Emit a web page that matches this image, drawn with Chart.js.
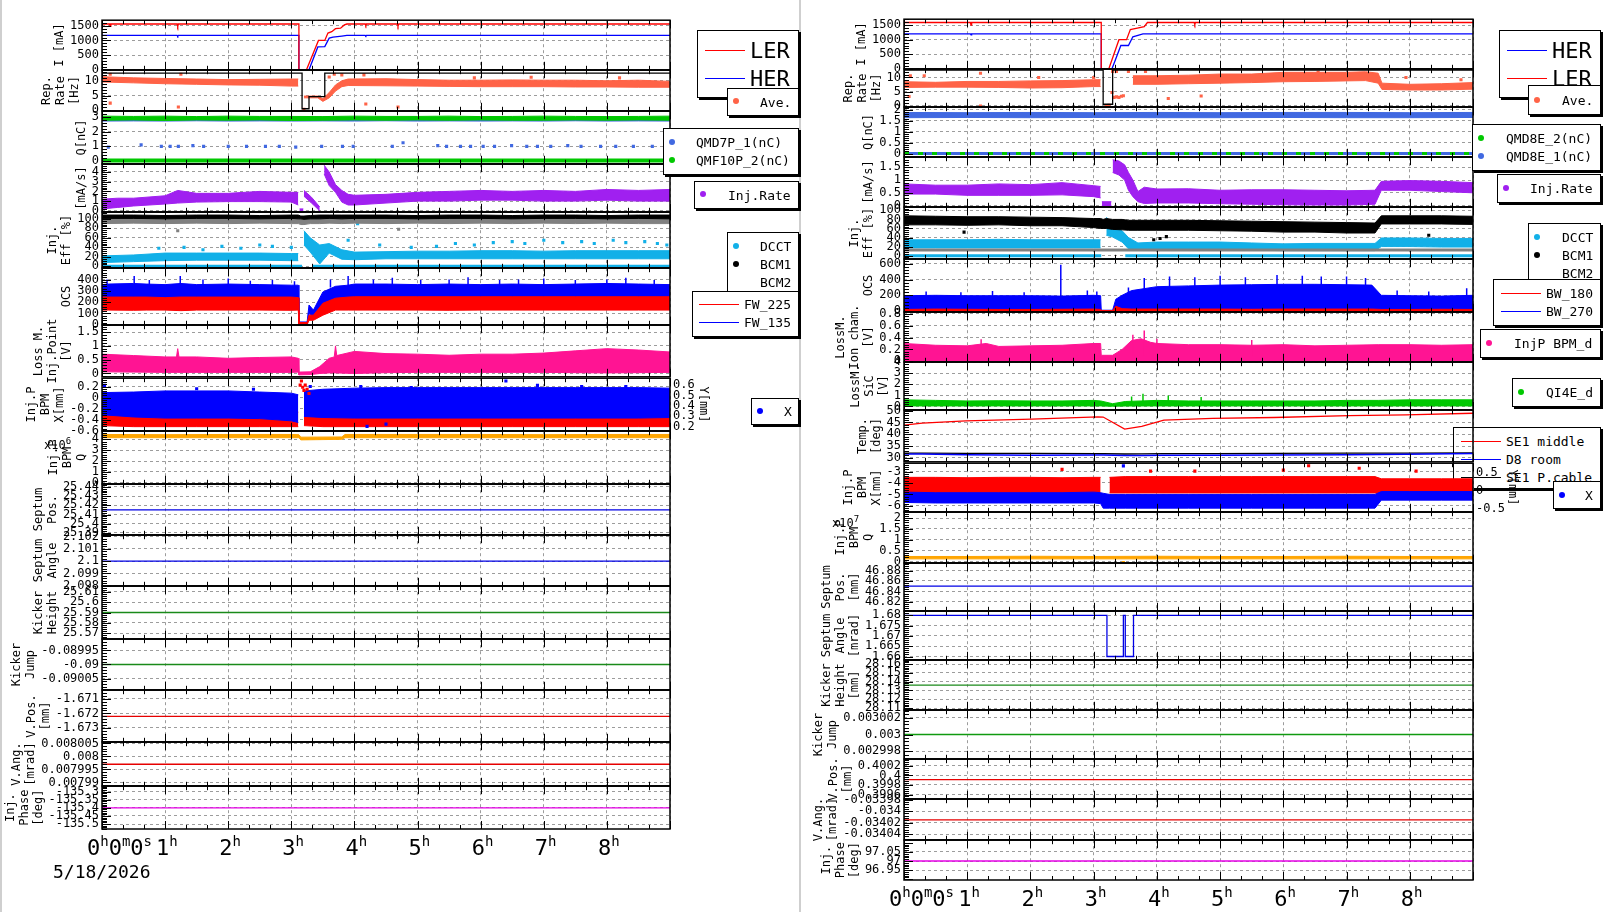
<!DOCTYPE html>
<html>
<head>
<meta charset="utf-8">
<script src="https://cdn.jsdelivr.net/npm/chart.js@4.4.1/dist/chart.umd.min.js"></script>
<style>
  html, body { margin: 0; padding: 0; background: #fff; }
  #stage { position: relative; width: 1606px; height: 912px; overflow: hidden; font-family: 'DejaVu Sans Mono', monospace; color: #000; }
  #stage canvas { position: absolute; }
  .win { position: absolute; top: 0; width: 2px; height: 912px; background: #cfcfcf; }
  .lg { position: absolute; border: 1px solid #000; box-shadow: 2px 2px 0 #000; background: #fff; font-size: 13px; z-index: 5; }
  .lg.under { z-index: 0; }
  .lg span { position: absolute; white-space: pre; line-height: 1; transform: translateY(-50%); }
  .lg span.big { font-size: 22px; }
  .lg i { position: absolute; display: block; }
  .lg i.dot { width: 6px; height: 6px; border-radius: 50%; transform: translate(-50%, -50%); }
  .lg i.ln { height: 1px; width: 40px; }
  .note { position: absolute; white-space: pre; z-index: 4; }
</style>
</head>
<body>
<div id="stage">
  <div class="win" style="left:0"></div>
  <div class="win" style="left:799px"></div>

  <!-- left legends -->
  <div class="lg" style="left:697px;top:30px;width:100px;height:66px">
    <i class="ln" style="left:7px;top:19px;background:#f00"></i><span class="big" style="left:52px;top:20px">LER</span>
    <i class="ln" style="left:7px;top:47px;background:#00f"></i><span class="big" style="left:52px;top:48px">HER</span>
  </div>
  <div class="lg" style="left:727px;top:88px;width:70px;height:26px">
    <i class="dot" style="left:8px;top:12px;background:#ff6347"></i><span style="left:32px;top:13px">Ave.</span>
  </div>
  <div class="lg" style="left:663px;top:128px;width:134px;height:45px">
    <i class="dot" style="left:8px;top:13px;background:#4169e1"></i><span style="left:32px;top:13px">QMD7P_1(nC)</span>
    <i class="dot" style="left:8px;top:31px;background:#00c800"></i><span style="left:32px;top:31px">QMF10P_2(nC)</span>
  </div>
  <div class="lg" style="left:694px;top:181px;width:103px;height:26px">
    <i class="dot" style="left:8px;top:12px;background:#a020f0"></i><span style="left:33px;top:13px">Inj.Rate</span>
  </div>
  <div class="lg" style="left:727px;top:232px;width:70px;height:63px">
    <i class="dot" style="left:8px;top:13px;background:#12b0e8"></i><span style="left:32px;top:13px">DCCT</span>
    <i class="dot" style="left:8px;top:31px;background:#000"></i><span style="left:32px;top:31px">BCM1</span>
    <span style="left:32px;top:49px">BCM2</span>
  </div>
  <div class="lg" style="left:692px;top:291px;width:105px;height:44px">
    <i class="ln" style="left:6px;top:12px;background:#f00"></i><span style="left:51px;top:12px">FW_225</span>
    <i class="ln" style="left:6px;top:30px;background:#00f"></i><span style="left:51px;top:30px">FW_135</span>
  </div>
  <div class="lg" style="left:751px;top:398px;width:46px;height:25px">
    <i class="dot" style="left:8px;top:12px;background:#00f"></i><span style="left:32px;top:12px">X</span>
  </div>

  <!-- right legends -->
  <div class="lg" style="left:1499px;top:30px;width:100px;height:66px">
    <i class="ln" style="left:7px;top:19px;background:#00f"></i><span class="big" style="left:52px;top:20px">HER</span>
    <i class="ln" style="left:7px;top:47px;background:#f00"></i><span class="big" style="left:52px;top:48px">LER</span>
  </div>
  <div class="lg" style="left:1528px;top:85px;width:71px;height:28px">
    <i class="dot" style="left:8px;top:14px;background:#ff6347"></i><span style="left:33px;top:14px">Ave.</span>
  </div>
  <div class="lg" style="left:1472px;top:124px;width:127px;height:45px">
    <i class="dot" style="left:8px;top:13px;background:#00c800"></i><span style="left:33px;top:13px">QMD8E_2(nC)</span>
    <i class="dot" style="left:8px;top:31px;background:#4169e1"></i><span style="left:33px;top:31px">QMD8E_1(nC)</span>
  </div>
  <div class="lg" style="left:1497px;top:174px;width:102px;height:27px">
    <i class="dot" style="left:8px;top:13px;background:#a020f0"></i><span style="left:32px;top:13px">Inj.Rate</span>
  </div>
  <div class="lg" style="left:1528px;top:223px;width:71px;height:63px">
    <i class="dot" style="left:8px;top:13px;background:#12b0e8"></i><span style="left:33px;top:13px">DCCT</span>
    <i class="dot" style="left:8px;top:31px;background:#000"></i><span style="left:33px;top:31px">BCM1</span>
    <span style="left:33px;top:49px">BCM2</span>
  </div>
  <div class="lg" style="left:1493px;top:279px;width:106px;height:45px">
    <i class="ln" style="left:7px;top:13px;background:#f00"></i><span style="left:52px;top:13px">BW_180</span>
    <i class="ln" style="left:7px;top:31px;background:#00f"></i><span style="left:52px;top:31px">BW_270</span>
  </div>
  <div class="lg" style="left:1480px;top:329px;width:119px;height:27px">
    <i class="dot" style="left:8px;top:13px;background:#ff1493"></i><span style="left:33px;top:13px">InjP BPM_d</span>
  </div>
  <div class="lg" style="left:1512px;top:378px;width:87px;height:27px">
    <i class="dot" style="left:8px;top:13px;background:#00c800"></i><span style="left:33px;top:13px">QI4E_d</span>
  </div>
  <div class="lg under" style="left:1453px;top:427px;width:146px;height:60px">
    <i class="ln" style="left:7px;top:13px;background:#f00"></i><span style="left:52px;top:13px">SE1 middle</span>
    <i class="ln" style="left:7px;top:31px;background:#00f"></i><span style="left:52px;top:31px">D8 room</span>
    <i class="ln" style="left:7px;top:49px;background:#000"></i><span style="left:52px;top:49px">SE1 P.cable</span>
  </div>
  <div class="lg" style="left:1553px;top:481px;width:46px;height:26px">
    <i class="dot" style="left:8px;top:13px;background:#00f"></i><span style="left:31px;top:13px">X</span>
  </div>

  <div class="note" style="left:44px;top:436px;font-size:12px">x10<sup style="font-size:9px">6</sup></div>
  <div class="note" style="left:832px;top:514px;font-size:12px">x10<sup style="font-size:9px">7</sup></div>
  <div class="note" id="dateLbl" style="left:53px;top:861px;font-size:18px"></div>
</div>

<script>
// ---------------- data (time in hours from 0h0m0s) ----------------
const runDate = '5/18/2026';
const hourGrid = [0, 1, 2, 3, 4, 5, 6, 7, 8, 9];
const hourLabels = [0, 1, 2, 3, 4, 5, 6, 7, 8];
const flatT = [0, 9];

// ===== left column =====
const curLerT = [0, 0.12, 0.13, 0.14, 1.19, 1.2, 1.21, 3.12, 3.12, 3.24, 3.43, 3.53, 3.58, 3.64, 3.7, 3.78, 3.84, 3.88, 4.17, 4.18, 4.19, 4.68, 4.69, 4.7, 9];
const curLer = [1560, 1560, 1480, 1560, 1560, 1480, 1560, 1560, 0, 0, 1000, 1000, 1250, 1300, 1400, 1420, 1530, 1560, 1560, 1510, 1560, 1560, 1490, 1560, 1560];
const curHerT = [0, 1.19, 1.2, 1.21, 3.12, 3.12, 3.28, 3.42, 3.53, 3.6, 3.66, 3.8, 3.88, 4.17, 4.18, 4.19, 9];
const curHer = [1170, 1170, 1140, 1170, 1170, 0, 0, 780, 790, 1080, 1110, 1150, 1170, 1170, 1150, 1170, 1170];

const repT = [0, 0.5, 1, 1.5, 2, 2.5, 3, 3.11, 3.15, 3.2, 3.3, 3.42, 3.5, 3.6, 3.7, 3.8, 3.9, 4.5, 5, 5.5, 6, 6.5, 7, 7.5, 8, 8.5, 9];
const repLo = [9.6, 9.3, 9.0, 8.8, 8.6, 8.5, 8.2, 8.2, null, 4.2, 4.2, 4.2, 3.0, 4.2, 6.5, 8.0, 8.4, 8.3, 8.2, 8.1, 8.0, 8.0, 8.0, 7.9, 7.9, 7.8, 7.8];
const repHi = [11.4, 11.0, 10.8, 10.6, 10.4, 10.5, 10.6, 10.6, null, 4.8, 4.8, 4.8, 3.9, 6.0, 8.6, 10.0, 10.6, 10.7, 10.4, 10.2, 10.2, 10.3, 10.2, 10.2, 10.0, 10.2, 9.8];
const repOutT = [0.13, 0.13, 1.21, 1.25, 3.2, 3.6, 3.68, 3.8, 4.15, 4.18, 4.69, 5.9, 6.8, 8.2];
const repOut = [2.4, 12.2, 1.1, 12.2, 0.3, 11.3, 12.2, 12.0, 12.0, 2.1, 1.1, 11.0, 11.2, 11.0];
const repSetT = [0, 3.17, 3.17, 3.28, 3.28, 3.53, 3.53, 9];
const repSet = [12.6, 12.6, 0.5, 0.5, 4.6, 4.6, 12.6, 12.6];

const qT = [0, 0.5, 1, 1.5, 2, 2.5, 3, 3.5, 4, 4.5, 5, 5.5, 6, 6.5, 7, 7.5, 8, 8.5, 9];
const q10pLo = [2.80, 2.82, 2.78, 2.82, 2.80, 2.82, 2.78, 2.80, 2.82, 2.80, 2.82, 2.80, 2.82, 2.80, 2.80, 2.82, 2.80, 2.82, 2.80];
const q10pHi = [3.08, 3.06, 3.08, 3.05, 3.08, 3.06, 3.06, 3.05, 3.08, 3.06, 3.06, 3.08, 3.05, 3.06, 3.08, 3.06, 3.05, 3.06, 3.08];
const q7pLo = [2.74, 2.75, 2.74, 2.76, 2.74, 2.75, 2.74, 2.75, 2.74, 2.76, 2.74, 2.75, 2.74, 2.75, 2.74, 2.76, 2.74, 2.75, 2.74];
const q7pHi = [2.92, 2.9, 2.92, 2.9, 2.92, 2.9, 2.92, 2.9, 2.92, 2.9, 2.92, 2.9, 2.92, 2.9, 2.92, 2.9, 2.92, 2.9, 2.92];
const qDotT = [0.10, 0.62, 0.94, 1.08, 1.21, 1.44, 1.61, 2.0, 2.29, 2.59, 2.81, 3.07, 3.48, 3.81, 3.98, 4.60, 4.77, 5.32, 5.46, 5.68, 5.84, 6.04, 6.22, 6.49, 6.73, 6.90, 7.11, 7.38, 7.59, 7.90, 8.14, 8.42, 8.72];
const qDot = [0.95, 1.1, 1.0, 1.0, 1.0, 1.05, 1.0, 1.0, 1.0, 1.0, 1.0, 0.95, 1.0, 1.0, 1.0, 1.0, 1.25, 1.05, 1.0, 1.0, 1.0, 1.0, 1.0, 1.05, 1.0, 1.0, 1.0, 1.05, 1.0, 1.0, 1.0, 1.0, 1.0];

const injT = [0, 0.25, 0.5, 1, 1.2, 1.5, 2, 2.5, 3, 3.11, 3.12, 3.13, 3.19, 3.195, 3.2, 3.32, 3.45, 3.5, 3.52, 3.6, 3.7, 3.8, 3.9, 4, 4.5, 5, 5.5, 6, 6.5, 7, 7.5, 8, 8.5, 9];
const injLo = [0.2, 0.35, 0.5, 0.7, 0.8, 0.9, 0.95, 0.95, 0.9, 0.6, null, 0.0, 0.0, null, 1.5, 0.8, 0.0, null, 3.8, 2.6, 1.9, 0.9, 0.6, 0.6, 0.8, 1.0, 1.0, 1.1, 1.1, 1.0, 1.0, 1.1, 1.0, 1.0];
const injHi = [1.2, 1.3, 1.3, 1.55, 2.1, 1.8, 1.8, 2.0, 1.9, 1.9, null, 0.2, 0.2, null, 2.1, 1.4, 0.4, null, 4.7, 4.0, 2.7, 2.1, 1.7, 1.6, 1.7, 1.9, 2.0, 2.1, 2.0, 2.1, 2.0, 2.2, 2.1, 2.2];

const effT = [0, 0.5, 1, 1.5, 2, 2.5, 3, 3.11, 3.15, 3.2, 3.3, 3.45, 3.6, 3.8, 4, 4.5, 5, 5.5, 6, 6.5, 7, 7.5, 8, 8.5, 9];
const bcm1Lo = [101, 101, 100, 101, 101, 100, 101, 100, 100, 99, 100, 100, 101, 100, 101, 101, 100, 101, 101, 100, 101, 101, 100, 101, 100];
const bcm1Hi = [108, 108, 107, 108, 108, 107, 108, 108, 106, 106, 107, 108, 108, 108, 108, 108, 107, 108, 108, 107, 108, 108, 107, 108, 108];
const bcm2Lo = [90, 91, 90, 91, 90, 91, 90, 90, 88, 88, 90, 90, 91, 90, 91, 90, 91, 90, 91, 90, 91, 90, 91, 90, 90];
const bcm2Hi = [101, 101, 101, 101, 101, 101, 101, 101, 100, 100, 101, 101, 101, 101, 101, 101, 101, 101, 101, 101, 101, 101, 101, 101, 101];
const dcctLo = [8, 10, 12, 13, 13, 13, 12, 12, null, 45, 30, 5, 28, 15, 14, 16, 16, 16, 16, 16, 16, 16, 16, 16, 16];
const dcctHi = [22, 24, 28, 28, 28, 28, 27, 27, null, 75, 60, 45, 48, 35, 30, 31, 32, 32, 33, 33, 32, 33, 33, 33, 33];
const dcctOutT = [0.35, 0.9, 1.3, 1.6, 1.9, 2.2, 2.5, 2.7, 3.0, 3.9, 4.05, 4.4, 4.9, 5.3, 5.6, 5.9, 6.2, 6.5, 6.7, 7.0, 7.3, 7.6, 7.8, 8.1, 8.3, 8.6, 8.8, 8.95];
const dcctOut = [95, 38, 40, 35, 42, 38, 45, 42, 40, 55, 90, 45, 40, 42, 48, 45, 50, 52, 48, 55, 50, 52, 48, 55, 50, 52, 48, 45];
const bcm2OutT = [1.2, 4.7];
const bcm2Out = [75, 78];
const dcctZeroT = [0, 3.17, 3.25, 3.33, 9];
const dcctZero = [0, 0, null, 0, 0];

const ocsT = [0, 0.1, 0.5, 0.7, 1, 1.25, 1.5, 2, 2.5, 3, 3.11, 3.12, 3.25, 3.28, 3.35, 3.5, 3.7, 3.9, 4, 4.5, 5, 5.5, 6, 6.5, 7, 7.5, 8, 8.5, 9];
const fw135Lo = [235, 235, 235, 235, 235, 235, 235, 235, 235, 235, 235, 5, 5, 100, 60, 150, 200, 230, 235, 235, 235, 235, 235, 235, 235, 235, 235, 235, 235];
const fw135Hi = [355, 360, 365, 360, 355, 365, 355, 360, 355, 350, 350, 25, 25, 175, 130, 290, 340, 350, 360, 360, 355, 360, 355, 360, 355, 360, 365, 360, 355];
const fw225Lo = [130, 130, 128, 130, 130, 125, 130, 130, 130, 128, 130, 0, 0, 40, 40, 85, 130, 130, 130, 130, 130, 128, 130, 130, 130, 130, 130, 130, 130];
const fw225Hi = [245, 245, 245, 245, 240, 245, 245, 245, 245, 245, 240, 20, 20, 85, 85, 190, 235, 245, 248, 248, 248, 248, 248, 248, 248, 248, 248, 248, 248];
const fw135PeakT = [0.08, 0.51, 0.75, 1.24, 1.6, 2.0, 2.35, 2.7, 3.05, 3.62, 3.9, 4.3, 4.6, 5.05, 5.5, 5.8, 6.3, 6.6, 7.0, 7.5, 8.0, 8.3, 8.75];
const fw135Peak = [400, 430, 395, 430, 400, 410, 390, 395, 385, 400, 430, 400, 415, 395, 400, 420, 395, 400, 410, 395, 400, 415, 395];
const fw135PeakBase = 330;

const lossT = [0, 0.5, 1, 1.18, 1.2, 1.22, 1.5, 2, 2.5, 3, 3.11, 3.12, 3.3, 3.45, 3.6, 3.68, 3.7, 3.72, 4, 4.5, 5, 5.5, 6, 6.5, 7, 7.5, 8, 8.5, 9];
const lossLo = [0.06, 0.05, 0.04, 0.04, 0.04, 0.04, 0.04, 0.04, 0.04, 0.04, 0.05, -0.05, -0.04, 0.0, 0.02, 0.02, 0.02, 0.02, 0.0, 0.03, 0.04, 0.04, 0.04, 0.04, 0.04, 0.03, 0.02, 0.03, 0.04];
const lossHi = [0.7, 0.65, 0.6, 0.6, 0.9, 0.6, 0.6, 0.55, 0.58, 0.6, 0.55, 0.05, 0.06, 0.25, 0.55, 0.6, 1.0, 0.65, 0.8, 0.72, 0.7, 0.66, 0.7, 0.7, 0.74, 0.82, 0.9, 0.85, 0.78];

const bpmT = [0, 0.5, 1, 1.5, 2, 2.5, 3, 3.11, 3.15, 3.2, 3.5, 4, 4.5, 5, 5.5, 6, 6.5, 7, 7.5, 8, 8.5, 9];
const bpmXLo = [-0.31, -0.35, -0.37, -0.37, -0.37, -0.38, -0.42, -0.45, null, -0.34, -0.36, -0.37, -0.37, -0.37, -0.37, -0.37, -0.37, -0.37, -0.37, -0.37, -0.37, -0.36];
const bpmXHi = [0.09, 0.1, 0.12, 0.12, 0.12, 0.1, 0.08, 0.05, null, 0.12, 0.15, 0.17, 0.18, 0.18, 0.18, 0.18, 0.18, 0.18, 0.18, 0.18, 0.18, 0.17];
const bpmYLo = [0.21, 0.2, 0.2, 0.2, 0.2, 0.2, 0.2, 0.2, null, 0.21, 0.2, 0.2, 0.2, 0.2, 0.2, 0.2, 0.2, 0.2, 0.2, 0.2, 0.2, 0.2];
const bpmYHi = [0.34, 0.34, 0.34, 0.34, 0.34, 0.34, 0.34, 0.34, null, 0.34, 0.34, 0.34, 0.34, 0.34, 0.34, 0.34, 0.34, 0.34, 0.34, 0.34, 0.34, 0.34];
const bpmYEvT = [3.14, 3.16, 3.18, 3.2, 3.22, 3.25, 3.28];
const bpmYEv = [0.6, 0.64, 0.58, 0.55, 0.6, 0.56, 0.52];
const bpmXOutT = [0.04, 1.5, 2.4, 3.3, 4.1, 4.9, 6.4, 6.9, 7.6, 8.3, 4.2, 4.5];
const bpmXOut = [0.22, 0.16, 0.15, 0.2, 0.2, 0.18, 0.3, 0.22, 0.2, 0.2, -0.52, -0.48];

const bpmQT = [0, 1, 2, 3, 3.12, 3.15, 3.8, 3.85, 5, 6, 7, 8, 9];
const bpmQLo = [4.15, 4.15, 4.15, 4.15, 4.15, 3.95, 4.0, 4.15, 4.15, 4.15, 4.15, 4.15, 4.15];
const bpmQHi = [4.45, 4.43, 4.45, 4.45, 4.43, 4.2, 4.22, 4.45, 4.45, 4.45, 4.43, 4.45, 4.45];

const septPosL = [25.415, 25.415];
const septAngL = [2.1, 2.1];
const kickHL = [25.59, 25.59];
const kickJL = [-0.09, -0.09];
const vPosL = [-1.6722, -1.6722];
const vAngL = [0.007997, 0.007997];
const phaseL = [-135.4, -135.4];

// ===== right column =====
const curLerRT = [0, 1.05, 1.06, 1.07, 3.12, 3.12, 3.24, 3.4, 3.52, 3.58, 3.69, 3.8, 3.85, 4.59, 4.6, 4.61, 9];
const curLerR = [1590, 1590, 1500, 1590, 1590, 0, 0, 1000, 1000, 1350, 1400, 1450, 1590, 1590, 1520, 1590, 1590];
const curHerRT = [0, 1.05, 1.06, 1.07, 3.12, 3.12, 3.29, 3.43, 3.55, 3.62, 3.7, 3.78, 9];
const curHerR = [1200, 1200, 1170, 1200, 1200, 0, 0, 800, 800, 1100, 1150, 1200, 1200];

const repRT = [0, 0.5, 1, 1.5, 2, 2.5, 3, 3.11, 3.3, 3.62, 4, 4.5, 5, 5.5, 6, 6.5, 7, 7.3, 7.5, 7.56, 8, 8.5, 9];
const repRLo = [6.5, 6.6, 6.6, 6.5, 6.3, 6.4, 6.8, 6.8, null, 7.6, 7.6, 7.8, 8.0, 8.2, 8.5, 8.6, 8.8, 8.9, 8.0, 5.8, 5.6, 5.6, 5.9];
const repRHi = [8.5, 8.3, 8.6, 8.6, 8.8, 8.9, 9.2, 9.2, null, 10.6, 10.6, 10.8, 11.2, 11.2, 11.8, 11.8, 11.8, 12.0, 11.5, 8.0, 7.6, 7.8, 8.2];
const repROutT = [0.1, 0.32, 0.08, 1.21, 1.21, 2.13, 3.0, 3.2, 3.24, 3.29, 3.32, 3.36, 3.4, 3.44, 3.47, 3.3, 3.36, 3.55, 3.82, 4.18, 4.7, 6.55, 7.94, 8.81];
const repROut = [10.6, 10.6, 3.3, 11.5, 0.0, 10.0, 10.0, 0.0, 0.2, 4.7, 3.0, 3.2, 3.0, 3.4, 3.6, 12.1, 12.1, 12.1, 12.1, 2.6, 3.5, 11.8, 10.0, 9.2];
const repRSetT = [0, 3.15, 3.15, 3.3, 3.3, 9];
const repRSet = [12.6, 12.6, 0.6, 0.6, 12.6, 12.6];

const qRT = [0, 1, 2, 3, 4, 5, 6, 7, 8, 9];
const q8e1Lo = [1.64, 1.65, 1.64, 1.65, 1.64, 1.64, 1.65, 1.64, 1.64, 1.65];
const q8e1Hi = [1.88, 1.87, 1.88, 1.87, 1.88, 1.87, 1.88, 1.88, 1.87, 1.88];
const qZero = [0, 0];

const injRT = [0, 0.5, 1, 1.5, 2, 2.5, 3, 3.11, 3.12, 3.13, 3.28, 3.29, 3.3, 3.4, 3.49, 3.55, 3.62, 3.7, 3.8, 4, 4.5, 5, 5.5, 6, 6.5, 7, 7.45, 7.55, 8, 8.5, 9];
const injRLo = [0.45, 0.45, 0.4, 0.4, 0.4, 0.42, 0.35, 0.3, null, 0.0, 0.0, null, 1.3, 1.2, 1.0, 0.6, 0.35, 0.15, 0.08, 0.1, 0.1, 0.07, 0.05, 0.03, 0.02, 0.02, 0.05, 0.6, 0.6, 0.55, 0.5];
const injRHi = [0.85, 0.8, 0.8, 0.85, 0.82, 0.9, 0.78, 0.75, null, 0.15, 0.15, null, 1.8, 1.75, 1.6, 1.3, 1.0, 0.55, 0.72, 0.65, 0.66, 0.6, 0.62, 0.62, 0.6, 0.58, 0.6, 0.95, 0.98, 0.95, 0.9];

const effRT = [0, 0.5, 1, 1.5, 2, 2.5, 3, 3.11, 3.15, 3.2, 3.3, 3.45, 3.55, 3.7, 4, 4.5, 5, 5.5, 6, 6.5, 7, 7.45, 7.55, 8, 8.5, 9];
const bcm1RLo = [68, 68, 67, 68, 66, 66, 62, 60, 60, 60, 58, 57, 56, 56, 56, 56, 55, 54, 52, 52, 50, 50, 70, 70, 70, 69];
const bcm1RHi = [88, 87, 86, 86, 85, 84, 82, 82, 80, 82, 80, 80, 78, 78, 78, 78, 77, 76, 75, 74, 73, 72, 88, 88, 88, 87];
const dcctRLo = [17, 17, 17, 17, 17, 17, 17, 17, null, 45, 41, 30, 15, 12, 13, 13, 12, 12, 11, 11, 11, 11, 20, 20, 19, 19];
const dcctRHi = [35, 35, 35, 36, 35, 35, 35, 35, null, 85, 70, 55, 40, 28, 30, 30, 30, 28, 26, 27, 27, 27, 39, 39, 38, 38];
const bcm2R = [12.6, 12.6];
const dcctRZeroT = [0, 3.12, 3.3, 3.5, 9];
const dcctRZero = [0, 0, null, 0, 0];
const bcm1ROutT = [0.95, 3.95, 4.05, 4.15, 8.3];
const bcm1ROut = [52, 35, 38, 42, 45];

const ocsRT = [0, 0.5, 1, 1.5, 2, 2.5, 3, 3.11, 3.12, 3.3, 3.35, 3.45, 3.6, 4, 4.5, 5, 5.5, 6, 6.5, 7, 7.4, 7.55, 8, 8.5, 9];
const bw270Lo = [15, 15, 15, 15, 15, 15, 15, 15, 0, 0, 10, 20, 20, 25, 25, 25, 25, 25, 25, 25, 25, 20, 20, 20, 20];
const bw270Hi = [195, 200, 195, 195, 195, 190, 200, 195, 10, 10, 150, 200, 260, 310, 320, 330, 335, 340, 340, 335, 330, 200, 195, 190, 200];
const bw180Lo = [0, 0, 0, 0, 0, 0, 0, 0, 0, 0, 0, 0, 0, 0, 0, 0, 0, 0, 0, 0, 0, 0, 0, 0, 0];
const bw180Hi = [20, 25, 22, 20, 20, 22, 25, 20, 5, 5, 60, 30, 25, 25, 25, 25, 22, 25, 25, 25, 25, 20, 20, 22, 20];
const bw270PeakT = [0.35, 0.9, 1.4, 1.9, 2.48, 2.9, 3.05, 3.55, 3.8, 4.2, 4.6, 5.0, 5.4, 5.9, 6.3, 6.6, 7.0, 7.3, 7.8, 8.3, 8.9];
const bw270Peak = [250, 240, 255, 240, 590, 260, 250, 300, 420, 440, 430, 450, 430, 460, 450, 440, 440, 420, 260, 250, 290];
const bw270PeakBase = 150;

const ionT = [0, 0.5, 1, 1.3, 1.5, 2, 2.5, 3, 3.11, 3.12, 3.3, 3.45, 3.6, 3.75, 3.9, 4, 4.5, 5, 5.5, 6, 6.5, 7, 7.5, 8, 8.5, 9];
const ionLo = [0, 0, 0, 0, 0, 0, 0, 0, 0, 0, 0, 0, 0, 0, 0, 0, 0, 0, 0, 0, 0, 0, 0, 0, 0, 0];
const ionHi = [0.3, 0.27, 0.26, 0.3, 0.25, 0.26, 0.27, 0.3, 0.3, 0.1, 0.1, 0.2, 0.35, 0.38, 0.32, 0.3, 0.28, 0.28, 0.27, 0.28, 0.26, 0.27, 0.28, 0.28, 0.27, 0.28];
const ionPeakT = [1.22, 3.62, 3.8, 4.0, 5.5];
const ionPeak = [0.37, 0.45, 0.52, 0.38, 0.36];
const ionPeakBase = 0.1;

const sicT = [0, 0.5, 1, 1.5, 2, 2.5, 3, 3.11, 3.3, 3.5, 4, 4.5, 5, 5.5, 6, 6.5, 7, 7.5, 8, 8.5, 9];
const sicLo = [0.05, 0.05, 0.05, 0.05, 0.05, 0.05, 0.05, 0.05, 0.02, 0.04, 0.05, 0.05, 0.05, 0.05, 0.05, 0.05, 0.05, 0.05, 0.05, 0.05, 0.05];
const sicHi = [0.6, 0.55, 0.5, 0.52, 0.5, 0.5, 0.55, 0.5, 0.25, 0.45, 0.55, 0.5, 0.5, 0.5, 0.5, 0.5, 0.55, 0.55, 0.6, 0.6, 0.6];
const sicPeakT = [3.6, 3.78, 4.18, 4.7];
const sicPeak = [0.9, 1.15, 1.0, 0.85];
const sicPeakBase = 0.3;

const tempT = [0, 0.29, 0.98, 2.02, 3.07, 3.15, 3.49, 3.76, 4.11, 4.88, 5.85, 7.04, 7.94, 9.0];
const tempSe1Mid = [43.9, 44.7, 45.7, 46.4, 47.4, 47.3, 42.2, 43.3, 46.0, 46.7, 47.1, 47.9, 48.2, 48.9];
const tempD8 = [31.6, 31.6, 31.3, 31.1, 31.2, 31.2, 31.0, 31.0, 31.1, 31.1, 31.2, 31.3, 31.5, 31.8];
const tempCable = [32.0, 32.0, 31.9, 31.9, 31.8, 31.8, 31.6, 31.7, 31.8, 31.8, 31.9, 32.0, 32.0, 32.1];

const bpmRT = [0, 0.5, 1, 1.5, 2, 2.5, 3, 3.11, 3.15, 3.25, 3.5, 4, 4.5, 5, 5.5, 6, 6.5, 7, 7.45, 7.55, 8, 8.5, 9];
const bpmRXLo = [-5.7, -5.75, -5.75, -5.75, -5.75, -5.75, -5.75, -5.8, -6.2, -6.2, -6.2, -6.2, -6.2, -6.2, -6.2, -6.2, -6.2, -6.2, -6.2, -5.5, -5.5, -5.5, -5.5];
const bpmRXHi = [-4.8, -4.85, -4.85, -4.85, -4.85, -4.85, -4.8, -4.85, -4.9, -5.0, -5.0, -5.0, -5.0, -5.0, -5.0, -5.0, -5.0, -5.0, -5.0, -4.75, -4.75, -4.75, -4.75];
const bpmRYLo = [-0.05, -0.05, -0.05, -0.05, -0.05, -0.05, -0.05, -0.05, null, -0.05, -0.05, -0.05, -0.05, -0.05, -0.05, -0.05, -0.05, -0.05, -0.05, -0.08, -0.08, -0.08, -0.08];
const bpmRYHi = [0.38, 0.38, 0.37, 0.38, 0.38, 0.37, 0.38, 0.38, null, 0.38, 0.4, 0.4, 0.4, 0.4, 0.4, 0.4, 0.4, 0.4, 0.4, 0.34, 0.34, 0.34, 0.34];
const bpmRYOutT = [2.5, 3.9, 4.6, 6.0, 6.4, 7.2, 8.1];
const bpmRYOut = [0.6, 0.55, 0.55, 0.58, 0.7, 0.63, 0.55];
const bpmRXOutT = [3.47];
const bpmRXOut = [-2.5];

const bpmQRT = [0, 1, 2, 3, 4, 5, 6, 7, 8, 9];
const bpmQRLo = [0.13, 0.13, 0.13, 0.13, 0.13, 0.13, 0.13, 0.13, 0.13, 0.13];
const bpmQRHi = [0.24, 0.24, 0.25, 0.24, 0.25, 0.24, 0.24, 0.25, 0.24, 0.24];
const bpmQRDotT = [3.47];
const bpmQRDot = [-0.04];

const septPosR = [46.85, 46.85];
const septAngRT = [0, 3.21, 3.21, 3.47, 3.47, 3.5, 3.5, 3.63, 3.63, 9];
const septAngR = [1.68, 1.68, 1.66, 1.66, 1.68, 1.68, 1.66, 1.66, 1.68, 1.68];
const kickHR = [28.136, 28.136];
const kickJR = [0.003, 0.003];
const vPosR = [0.39991, 0.39991];
const vAngR = [-0.034015, -0.034015];
const phaseR = [97.0, 97.0];

// ---------------- styling ----------------
const RED = '#ff0000', BLUE = '#0000ff', TOMATO = '#ff6347', GRN = '#00c800', RBLUE = '#4169e1';
const PURPLE = '#a020f0', CYAN = '#12b0e8', GRAY = '#808080', PINK = '#ff1493', ORANGE = '#ffa500';
const DKGREEN = '#1a8a1a', MAGENTA = '#e600e6', SEPBLUE = '#0000e6', LRED = '#e60000';
const GRID = '#9c9c9c';
const PAD = 10, XLAB = 40, EXTRA = 60, Y2W = 40;
const colL = {left: 0, plotLeft: 102, plotRight: 670};
const colR = {left: 800, plotLeft: 904, plotRight: 1473};

Chart.defaults.font.family = "'DejaVu Sans Mono', monospace";
Chart.defaults.font.size = 12;
Chart.defaults.color = '#000';

const xy = (t, v) => t.map((x, i) => ({x: x, y: v[i]}));

function band(t, lo, hi, color, order, axis) {
  return [
    {data: xy(t, lo), borderColor: color, borderWidth: 1, pointRadius: 0, fill: false, order: order, yAxisID: axis || 'y'},
    {data: xy(t, hi), borderColor: color, borderWidth: 1, pointRadius: 0, fill: '-1', backgroundColor: color, order: order, yAxisID: axis || 'y'}
  ];
}
function trace(t, v, color, width, order, extra) {
  return Object.assign({data: xy(t, v), borderColor: color, borderWidth: width, pointRadius: 0, fill: false, order: order}, extra || {});
}
function dots(t, v, color, order, axis) {
  return {data: xy(t, v), showLine: false, pointStyle: 'rect', pointRadius: 2.2, pointBorderWidth: 0,
    pointBackgroundColor: color, borderColor: color, order: order, yAxisID: axis || 'y'};
}
// vertical stems from a base level up to each peak reading
function stems(t, peak, base, color, order) {
  const pts = [];
  t.forEach((x, i) => { pts.push({x: x, y: base}, {x: x, y: peak[i]}, {x: x, y: null}); });
  return {data: pts, borderColor: color, borderWidth: 1.5, pointRadius: 0, fill: false, order: order};
}

const leftPanels = [
  {top: 19.5, bot: 70, min: 0, max: 1690, ticks: ['0', '500', '1000', '1500'], title: ['I [mA]'],
   sets: () => [trace(curLerT, curLer, RED, 1.3, 1), trace(curHerT, curHer, BLUE, 1.3, 2)]},
  {top: 70, bot: 111, min: -0.2, max: 13.6, ticks: ['0', '5', '10'], title: ['Rep.', 'Rate', '[Hz]'],
   sets: () => [trace(repSetT, repSet, '#000', 1.3, 0), dots(repOutT, repOut, TOMATO, 1), ...band(repT, repLo, repHi, TOMATO, 2)]},
  {top: 111, bot: 163.5, min: -0.2, max: 3.42, ticks: ['0', '1', '2', '3'], title: ['Q[nC]'],
   sets: () => [dots(qDotT, qDot, RBLUE, 0), ...band(qT, q10pLo, q10pHi, GRN, 1), ...band(qT, q7pLo, q7pHi, RBLUE, 2),
     trace(flatT, [0.03, 0.03], GRN, 4, 1), trace(flatT, [0, 0], RBLUE, 2, 2)]},
  {top: 163.5, bot: 212, min: -0.1, max: 4.8, ticks: ['0', '1', '2', '3', '4'], title: ['[mA/s]'],
   sets: () => [...band(injT, injLo, injHi, PURPLE, 1)]},
  {top: 212, bot: 267.5, min: -3, max: 114, ticks: ['0', '20', '40', '60', '80', '100'], title: ['Inj.', 'Eff [%]'],
   sets: () => [trace(dcctZeroT, dcctZero, CYAN, 3, 0), ...band(effT, bcm1Lo, bcm1Hi, '#000', 1), ...band(effT, bcm2Lo, bcm2Hi, GRAY, 2),
     dots(bcm2OutT, bcm2Out, GRAY, 2), dots(dcctOutT, dcctOut, CYAN, 3), ...band(effT, dcctLo, dcctHi, CYAN, 3)]},
  {top: 267.5, bot: 325, min: 0, max: 500, ticks: ['0', '100', '200', '300', '400'], title: ['OCS'],
   sets: () => [...band(ocsT, fw225Lo, fw225Hi, RED, 1), stems(fw135PeakT, fw135Peak, fw135PeakBase, BLUE, 2), ...band(ocsT, fw135Lo, fw135Hi, BLUE, 2)]},
  {top: 325, bot: 377, min: -0.12, max: 1.75, ticks: ['0', '0.5', '1', '1.5'], title: ['Loss M.', 'Inj.Point', '[V]'],
   sets: () => [...band(lossT, lossLo, lossHi, PINK, 1)]},
  {top: 378, bot: 431, min: -0.6, max: 0.35, ticks: ['-0.6', '-0.4', '-0.2', '0', '0.2'], title: ['Inj.P', 'BPM', 'X[mm]'],
   y2: {min: 0.16, max: 0.667, ticks: ['0.2', '0.3', '0.4', '0.5', '0.6'], title: 'Y[mm]', dx: 33},
   sets: () => [dots(bpmYEvT, bpmYEv, RED, 0, 'y2'), dots(bpmXOutT, bpmXOut, BLUE, 1), ...band(bpmT, bpmXLo, bpmXHi, BLUE, 1),
     ...band(bpmT, bpmYLo, bpmYHi, RED, 2, 'y2')]},
  {top: 431, bot: 483.5, min: -0.1, max: 4.75, ticks: ['0', '1', '2', '3', '4'], title: ['Inj.P', 'BPM', 'Q'],
   sets: () => [...band(bpmQT, bpmQLo, bpmQHi, ORANGE, 1)]},
  {top: 483.5, bot: 535, min: 25.388, max: 25.443, ticks: ['25.39', '25.4', '25.41', '25.42', '25.43', '25.44'], title: ['Septum', 'Pos.'],
   sets: () => [trace(flatT, septPosL, SEPBLUE, 1.3, 1)]},
  {top: 535, bot: 586, min: 2.098, max: 2.1021, ticks: ['2.098', '2.099', '2.1', '2.101', '2.102'], title: ['Septum', 'Angle'],
   sets: () => [trace(flatT, septAngL, SEPBLUE, 1.3, 1)]},
  {top: 586, bot: 638.5, min: 25.5645, max: 25.6155, ticks: ['25.57', '25.58', '25.59', '25.6', '25.61'], title: ['Kicker', 'Height'],
   sets: () => [trace(flatT, kickHL, DKGREEN, 1.3, 1)]},
  {top: 638.5, bot: 689.5, min: -0.09009, max: -0.08991, ticks: ['-0.09005', '-0.09', '-0.08995'], title: ['Kicker', 'Jump'],
   sets: () => [trace(flatT, kickJL, DKGREEN, 1.3, 1)]},
  {top: 689.5, bot: 741.5, min: -1.67396, max: -1.6704, ticks: ['-1.673', '-1.672', '-1.671'], title: ['V.Pos.', '[mm]'],
   sets: () => [trace(flatT, vPosL, LRED, 1.3, 1)]},
  {top: 741.5, bot: 785.5, min: 0.0079887, max: 0.0080055, ticks: ['0.00799', '0.007995', '0.008', '0.008005'], title: ['V.Ang.', '[mrad]'],
   sets: () => [trace(flatT, vAngL, LRED, 1.3, 1)]},
  {top: 785.5, bot: 829, min: -135.53, max: -135.267, ticks: ['-135.5', '-135.45', '-135.4', '-135.35', '-135.3'], title: ['Inj.', 'Phase', '[deg]'],
   sets: () => [trace(flatT, phaseL, MAGENTA, 1.3, 1)]}
];

const rightPanels = [
  {top: 19.3, bot: 68.5, min: 0, max: 1704, ticks: ['0', '500', '1000', '1500'], title: ['I [mA]'],
   sets: () => [trace(curLerRT, curLerR, RED, 1.3, 1), trace(curHerRT, curHerR, BLUE, 1.3, 2)]},
  {top: 68.5, bot: 107.3, min: -0.3, max: 12.9, ticks: ['0', '5', '10'], title: ['Rep.', 'Rate', '[Hz]'],
   sets: () => [trace(repRSetT, repRSet, '#000', 1.3, 0), dots(repROutT, repROut, TOMATO, 1), ...band(repRT, repRLo, repRHi, TOMATO, 2)]},
  {top: 107.3, bot: 156.7, min: -0.15, max: 2.12, ticks: ['0', '0.5', '1', '1.5', '2'], title: ['Q[nC]'],
   sets: () => [trace(flatT, qZero, GRN, 3, 0, {borderDash: [5, 9]}), trace(flatT, qZero, RBLUE, 3, 1), ...band(qRT, q8e1Lo, q8e1Hi, RBLUE, 2)]},
  {top: 156.7, bot: 206.7, min: -0.05, max: 1.9, ticks: ['0', '0.5', '1', '1.5'], title: ['[mA/s]'],
   sets: () => [...band(injRT, injRLo, injRHi, PURPLE, 1)]},
  {top: 206.7, bot: 258.5, min: -7, max: 107, ticks: ['0', '20', '40', '60', '80', '100'], title: ['Inj.', 'Eff [%]'],
   sets: () => [trace(dcctRZeroT, dcctRZero, CYAN, 3, 0), trace(flatT, bcm2R, GRAY, 3, 1), dots(bcm1ROutT, bcm1ROut, '#000', 2),
     ...band(effRT, bcm1RLo, bcm1RHi, '#000', 2), ...band(effRT, dcctRLo, dcctRHi, CYAN, 3)]},
  {top: 258.5, bot: 311.7, min: -10, max: 660, ticks: ['0', '200', '400', '600'], title: ['OCS'],
   sets: () => [...band(ocsRT, bw180Lo, bw180Hi, RED, 1), stems(bw270PeakT, bw270Peak, bw270PeakBase, BLUE, 2), ...band(ocsRT, bw270Lo, bw270Hi, BLUE, 2)]},
  {top: 311.7, bot: 362.3, min: -0.01, max: 0.83, ticks: ['0', '0.2', '0.4', '0.6', '0.8'], title: ['LossM.', 'Ion cham.', '[V]'],
   sets: () => [stems(ionPeakT, ionPeak, ionPeakBase, PINK, 1), ...band(ionT, ionLo, ionHi, PINK, 1)]},
  {top: 362.3, bot: 410, min: -0.3, max: 4.0, ticks: ['0', '1', '2', '3', '4'], title: ['LossM.', 'SiC', '[V]'],
   sets: () => [stems(sicPeakT, sicPeak, sicPeakBase, GRN, 0), ...band(sicT, sicLo, sicHi, GRN, 1)]},
  {top: 410, bot: 461.7, min: 28.3, max: 50.2, ticks: ['30', '35', '40', '45', '50'], title: ['Temp.', '[deg]'],
   sets: () => [trace(tempT, tempSe1Mid, RED, 1.3, 0), trace(tempT, tempD8, BLUE, 1.5, 1), trace(tempT, tempCable, '#000', 1.3, 2)]},
  {top: 463.3, bot: 511.7, min: -6.52, max: -2.27, ticks: ['-6', '-5', '-4', '-3'], title: ['Inj.P', 'BPM', 'X[mm]'],
   y2: {min: -0.57, max: 0.77, ticks: ['-0.5', '0', '0.5'], title: 'Y[mm]', dx: 39},
   sets: () => [dots(bpmRXOutT, bpmRXOut, BLUE, 0), dots(bpmRYOutT, bpmRYOut, RED, 0, 'y2'), ...band(bpmRT, bpmRXLo, bpmRXHi, BLUE, 1),
     ...band(bpmRT, bpmRYLo, bpmRYHi, RED, 2, 'y2')]},
  {top: 511.7, bot: 562.7, min: -0.05, max: 2.27, ticks: ['0', '0.5', '1', '1.5', '2'], title: ['Inj.P', 'BPM', 'Q'],
   sets: () => [dots(bpmQRDotT, bpmQRDot, ORANGE, 0), ...band(bpmQRT, bpmQRLo, bpmQRHi, ORANGE, 1)]},
  {top: 562.7, bot: 610.7, min: 46.803, max: 46.894, ticks: ['46.82', '46.84', '46.86', '46.88'], title: ['Septum', 'Pos.', '[mm]'],
   sets: () => [trace(flatT, septPosR, SEPBLUE, 1.3, 1)]},
  {top: 610.7, bot: 660, min: 1.6584, max: 1.682, ticks: ['1.66', '1.665', '1.67', '1.675', '1.68'], title: ['Septum', 'Angle', '[mrad]'],
   sets: () => [trace(septAngRT, septAngR, SEPBLUE, 1.3, 1)]},
  {top: 660, bot: 710, min: 28.108, max: 28.1645, ticks: ['28.11', '28.12', '28.13', '28.14', '28.15', '28.16'], title: ['Kicker', 'Height', '[mm]'],
   sets: () => [trace(flatT, kickHR, DKGREEN, 1.3, 1)]},
  {top: 710, bot: 759, min: 0.0029971, max: 0.0030029, ticks: ['0.002998', '0.003', '0.003002'], title: ['Kicker', 'Jump'],
   sets: () => [trace(flatT, kickJR, '#109a10', 1.3, 1)]},
  {top: 759, bot: 799.3, min: 0.39951, max: 0.40034, ticks: ['0.3996', '0.3998', '0.4', '0.4002'], title: ['V.Pos.', '[mm]'],
   sets: () => [trace(flatT, vPosR, LRED, 1.3, 1)]},
  {top: 799.3, bot: 840, min: -0.03405, max: -0.033979, ticks: ['-0.03404', '-0.03402', '-0.034', '-0.03398'], title: ['V.Ang.', '[mrad]'],
   sets: () => [trace(flatT, vAngR, LRED, 1.3, 1)]},
  {top: 840, bot: 880, min: 96.896, max: 97.114, ticks: ['96.95', '97', '97.05'], title: ['Inj.', 'Phase', '[deg]'],
   sets: () => [trace(flatT, phaseR, MAGENTA, 1.3, 1)]}
];

// frame, inward ticks, side titles and hour labels
const panelDeco = {
  id: 'panelDeco',
  afterDraw(chart, args, o) {
    const ctx = chart.ctx, a = chart.chartArea;
    const sx = chart.scales.x, sy = chart.scales.y;
    ctx.save();
    ctx.strokeStyle = '#000';
    ctx.lineWidth = 1;
    ctx.beginPath();
    for (let m = 0; m <= 27; m++) {
      const px = Math.round(sx.getPixelForValue(m / 3)) + 0.5;
      const len = m % 3 ? 4 : 8;
      ctx.moveTo(px, a.top); ctx.lineTo(px, a.top + len);
      ctx.moveTo(px, a.bottom); ctx.lineTo(px, a.bottom - len);
    }
    const tv = sy.ticks.map(t => t.value);
    if (tv.length > 1) {
      const step = (tv[1] - tv[0]) / 5;
      for (let k = -5; k <= (tv.length - 1) * 5 + 5; k++) {
        const v = tv[0] + k * step;
        if (v < sy.min || v > sy.max) continue;
        const py = Math.round(sy.getPixelForValue(v)) + 0.5;
        ctx.moveTo(a.left, py); ctx.lineTo(a.left + (k % 5 ? 5 : 9), py);
      }
    }
    ctx.stroke();
    ctx.lineWidth = 1.5;
    ctx.strokeRect(a.left, a.top, a.right - a.left, a.bottom - a.top);

    ctx.fillStyle = '#000';
    ctx.font = "12px 'DejaVu Sans Mono'";
    ctx.textAlign = 'center';
    ctx.textBaseline = 'middle';
    const lw = Math.max(...sy.ticks.map(t => ctx.measureText(String(t.label)).width));
    const cy = (a.top + a.bottom) / 2;
    const n = o.lines.length;
    o.lines.forEach((s, i) => {
      ctx.save();
      ctx.translate(a.left - lw - 13 - (n - 1 - i) * 14, cy);
      ctx.rotate(-Math.PI / 2);
      ctx.fillText(s, 0, 0);
      ctx.restore();
    });
    if (o.y2Title) {
      ctx.save();
      ctx.translate(a.right + o.y2Dx, cy);
      ctx.rotate(Math.PI / 2);
      ctx.fillText(o.y2Title, 0, 0);
      ctx.restore();
    }
    if (o.xLabels) {
      ctx.textAlign = 'left';
      ctx.textBaseline = 'alphabetic';
      const base = a.bottom + 26;
      hourLabels.forEach(h => {
        const parts = h === 0 ? [['0', 0], ['h', 1], ['0', 0], ['m', 1], ['0', 0], ['s', 1]] : [[String(h), 0], ['h', 1]];
        let x = sx.getPixelForValue(h) - (h === 0 ? 15 : 9);
        parts.forEach(([s, sup]) => {
          ctx.font = sup ? "14px 'DejaVu Sans Mono'" : "22px 'DejaVu Sans Mono'";
          ctx.fillText(s, x, sup ? base - 9 : base);
          x += ctx.measureText(s).width;
        });
      });
    }
    ctx.restore();
  }
};

const stage = document.getElementById('stage');

function buildPanel(col, p, isBottom) {
  const top = Math.round(p.top), bot = Math.round(p.bot);
  const W = col.plotRight - col.left + EXTRA;
  const H = bot - top + PAD + (isBottom ? XLAB : PAD);
  const cv = document.createElement('canvas');
  cv.width = W; cv.height = H;
  cv.style.left = col.left + 'px';
  cv.style.top = (top - PAD) + 'px';
  cv.style.width = W + 'px';
  cv.style.height = H + 'px';
  stage.appendChild(cv);

  const yVals = p.ticks.map(Number);
  const scales = {
    x: {
      type: 'linear', min: 0, max: 9,
      afterBuildTicks: s => { s.ticks = hourGrid.map(v => ({value: v})); },
      afterFit: s => { s.height = isBottom ? XLAB : 0; },
      ticks: {display: false},
      grid: {color: GRID, drawTicks: false},
      border: {display: false, dash: [3, 3]}
    },
    y: {
      type: 'linear', min: p.min, max: p.max,
      afterBuildTicks: s => { s.ticks = yVals.map(v => ({value: v})); },
      afterFit: s => { s.width = col.plotLeft - col.left; },
      ticks: {autoSkip: false, padding: 3, callback: (v, i) => p.ticks[i]},
      grid: {color: GRID, drawTicks: false},
      border: {display: false, dash: [3, 3]}
    }
  };
  if (p.y2) {
    const y2Vals = p.y2.ticks.map(Number);
    scales.y2 = {
      type: 'linear', position: 'right', min: p.y2.min, max: p.y2.max,
      afterBuildTicks: s => { s.ticks = y2Vals.map(v => ({value: v})); },
      afterFit: s => { s.width = Y2W; },
      ticks: {autoSkip: false, padding: 3, callback: (v, i) => p.y2.ticks[i]},
      grid: {display: false, drawTicks: false},
      border: {display: false}
    };
  }

  new Chart(cv, {
    type: 'line',
    data: {datasets: p.sets()},
    options: {
      responsive: false,
      animation: false,
      devicePixelRatio: 1,
      events: [],
      layout: {padding: {top: PAD, bottom: isBottom ? 0 : PAD, left: 0, right: EXTRA - (p.y2 ? Y2W : 0)}},
      scales: scales,
      plugins: {
        legend: {display: false},
        tooltip: {enabled: false},
        panelDeco: {lines: p.title, y2Title: p.y2 ? p.y2.title : null, y2Dx: p.y2 ? p.y2.dx : 0, xLabels: isBottom}
      }
    },
    plugins: [panelDeco]
  });
}

leftPanels.forEach((p, i) => buildPanel(colL, p, i === leftPanels.length - 1));
rightPanels.forEach((p, i) => buildPanel(colR, p, i === rightPanels.length - 1));
document.getElementById('dateLbl').textContent = runDate;
</script>
</body>
</html>
